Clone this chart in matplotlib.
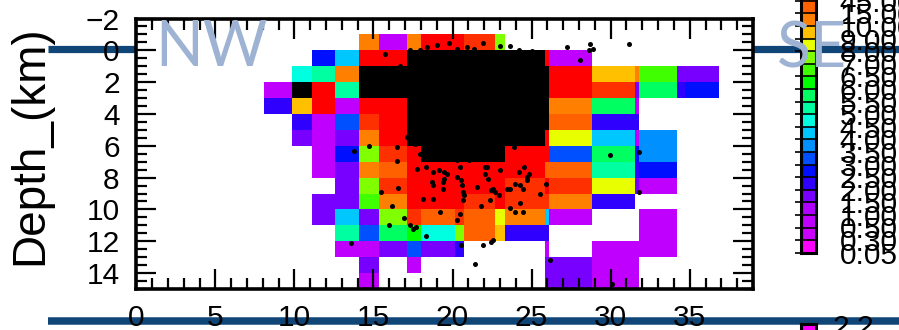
import numpy as np
import matplotlib
matplotlib.use("Agg")
import matplotlib.pyplot as plt
from matplotlib.colors import ListedColormap, BoundaryNorm
from matplotlib.lines import Line2D
from matplotlib.patches import Rectangle

N = np.nan

# cell edges along the profile (km) and in depth (km)
x_edges = [8.10, 9.83, 11.10, 12.57, 14.09, 15.32, 17.11, 18.02, 20.17, 20.70,
           22.70, 23.34, 25.83, 26.08, 28.82, 31.52, 31.81, 34.20, 34.70, 36.88]
depth_edges = list(range(-1, 16))

# class limits of the colour scale and one colour per class
class_bounds = [0.05, 0.3, 0.5, 1.0, 1.5, 2.0, 2.5, 3.0, 3.5, 4.0, 4.5, 5.0,
                5.5, 6.0, 6.5, 7.0, 8.0, 9.0, 10.0, 15.0, 45.0, 50.0, 60.0, 100.0]
class_colors = ["#ff00ff", "#cc00ff", "#c000ff", "#b000ff", "#7800ff", "#3000ff",
                "#0010ff", "#0050ff", "#0090ff", "#00c8ff", "#00ffe0", "#00ffa0",
                "#00ff60", "#00ff00", "#40ff00", "#80ff00", "#e8ff00", "#ffc000",
                "#ff8000", "#ff6000", "#ff3000", "#ff0000", "#000000"]

# one row per 1 km depth slice, from -1 km down to 14 km
cell_values = [
    [N, N, N, N, 12, 0.8, 12, 55, 55, 48, 7.5, N, N, N, N, N, N, N, N],
    [N, N, 2.8, 4.2, 55, 55, 80, 80, 80, 80, 80, 80, 55, 0.8, N, N, N, N, N],
    [N, 4.8, 5.2, 12, 80, 80, 80, 80, 80, 80, 80, 80, 80, 55, 9.5, 12, 6.8, 1.8, 1.8],
    [0.8, 80, 55, 5.2, 80, 80, 80, 80, 80, 80, 80, 80, 80, 55, 48, 1.8, 5.8, 2.2, 2.8],
    [2.2, 9.5, 55, 0.8, 55, 55, 80, 80, 80, 80, 80, 80, 80, 12, 5.8, 0.8, N, N, N],
    [N, 2.2, 0.8, 3.2, 48, 55, 80, 80, 80, 80, 80, 80, 80, 30, 2.2, 2.2, N, N, N],
    [N, 1.8, 0.8, 1.8, 12, 55, 80, 80, 80, 80, 80, 80, 55, 8.5, 4.2, 0.8, 3.8, N, N],
    [N, N, 0.8, 2.8, 7.5, 48, 55, 80, 80, 80, 80, 55, 55, 3.2, 5.8, 2.8, 3.8, N, N],
    [N, N, 0.8, 1.8, 12, 30, 55, 55, 55, 55, 55, 55, 30, 30, 5.2, 2.2, 2.8, N, N],
    [N, N, N, 1.8, 7.5, 48, 55, 55, 55, 55, 55, 48, 55, 48, 8.5, 1.8, 0.8, N, N],
    [N, N, 1.8, 1.8, 6.8, 12, 55, 55, 55, 48, 55, 48, 48, 12, 2.2, N, N, N, N],
    [N, N, 1.8, 4.2, 1.8, 7.5, 48, 30, 48, 30, 8.5, 12, 4.2, 0.8, N, N, 0.8, N, N],
    [N, N, N, 5.2, 3.2, 5.8, 6.2, 4.8, 7.5, 30, 9.5, 2.2, 2.2, N, N, N, 0.8, N, N],
    [N, N, N, 0.8, 0.8, 1.8, 3.2, 1.8, 2.2, N, N, N, 0.8, N, 0.8, 0.8, 0.8, N, N],
    [N, N, N, N, 1.8, N, 0.8, N, N, N, N, N, 1.8, 1.8, 0.8, 0.8, N, N, N],
    [N, N, N, N, 0.8, N, N, N, N, N, N, N, 1.8, 1.8, 0.8, 0.8, N, N, N],
]

# hypocentres outside the dense cluster: distance (km) and depth (km)
quake_x = [15.74, 16.65, 17.32, 17.95, 18.38, 19.01, 19.75, 20.28, 20.91, 21.33,
           21.92, 23.02, 23.61, 24.18, 25.02, 27.24, 28.04, 28.61, 28.71, 28.88,
           31.14, 13.78, 14.73, 16.48, 16.48, 17.22, 17.11, 17.64, 17.95, 18.38,
           19.22, 19.64, 20.28, 21.01, 22.07, 23.02, 23.86,
           17.74, 18.33, 18.76, 19.12, 19.43, 19.64, 20.44, 22.03, 22.07, 22.17,
           23.02, 24.18, 24.49, 24.81, 24.71, 18.69, 18.76, 19.39, 19.49, 19.39,
           20.28, 20.55, 20.59, 20.63, 20.70, 21.54, 22.24, 22.43, 22.55, 22.70,
           22.91, 23.44, 23.65, 23.97, 24.28, 24.45, 24.71, 25.51, 25.93, 15.49,
           16.58, 18.12, 18.76, 22.39, 20.63, 16.16, 19.18, 20.49, 21.82, 23.65,
           23.97, 24.24, 24.45, 16.90, 15.95, 17.28, 17.53, 17.70, 18.33, 20.28,
           13.59, 20.51, 21.92, 22.45, 22.55, 21.44, 26.14, 29.98, 31.82, 31.78,
           30.09]
quake_z = [0.23, 0.98, 0.00, -0.05, -0.22, -0.32, -0.47, -0.11, -0.22, -0.11,
           -0.43, -0.26, -0.26, 0.00, 0.04, -0.22, 0.58, 0.00, -0.42, -0.11,
           -0.40, 6.30, 5.99, 6.05, 6.95, 5.13, 5.45, 5.86, 6.49, 6.70,
           6.28, 6.70, 6.91, 6.91, 6.81, 6.70, 6.07,
           7.44, 7.33, 7.65, 7.54, 7.65, 7.75, 7.33, 7.33, 7.75, 7.33,
           7.54, 7.65, 7.33, 7.75, 7.96, 8.28, 8.49, 8.28, 8.07, 8.74,
           7.96, 8.17, 8.49, 8.91, 9.12, 8.59, 8.07, 8.80, 8.70, 8.91,
           9.07, 8.74, 8.74, 8.38, 8.49, 8.70, 8.17, 9.01, 8.38, 8.91,
           8.66, 9.33, 9.33, 9.43, 9.43, 9.79, 10.16, 10.27, 9.81, 9.91,
           10.16, 9.58, 10.16, 10.52, 11.00, 10.96, 11.21, 11.11, 11.70, 10.69,
           12.09, 12.26, 12.22, 12.05, 11.95, 13.46, 13.20, 6.58, 6.37, 8.90,
           14.67]

x_ticks = [0, 5, 10, 15, 20, 25, 30, 35]
depth_ticks = [-2, 0, 2, 4, 6, 8, 10, 12, 14]

W, H = 899, 330
fig = plt.figure(figsize=(W / 100, H / 100), dpi=100, facecolor="white")
tick_font = "Liberation Sans"

# slide rules running behind the figure
rule_color = "#0f4677"
fig.add_artist(Line2D([48 / W, 1.0], [1 - 48.5 / H] * 2, transform=fig.transFigure,
                      color=rule_color, lw=5.2, zorder=-1, solid_capstyle="butt"))
fig.add_artist(Line2D([48 / W, 1.0], [1 - 320.5 / H] * 2, transform=fig.transFigure,
                      color=rule_color, lw=5.4, zorder=-1, solid_capstyle="butt"))

ax = fig.add_axes([136.3 / W, 41 / H, (753 - 136.3) / W, (289 - 18.5) / H])

cmap = ListedColormap(class_colors)
norm = BoundaryNorm(class_bounds, cmap.N)
vals = np.ma.masked_invalid(np.array(cell_values, dtype=float))
mesh = ax.pcolormesh(x_edges, depth_edges, vals, cmap=cmap, norm=norm,
                     edgecolors="none", antialiased=False, zorder=1)
ax.scatter(quake_x, quake_z, s=13, c="black", linewidths=0, zorder=3)

ax.set_xlim(0, 39)
ax.set_ylim(15, -2)
ax.set_xticks(x_ticks)
ax.set_yticks(depth_ticks)
ax.set_xticks(np.arange(0, 39.01, 1), minor=True)
ax.set_yticks(np.arange(-2, 15.01, 0.5), minor=True)
ax.tick_params(which="both", direction="in", top=True, right=True, width=1.6,
               color="black")
ax.tick_params(which="major", length=14.5)
ax.tick_params(which="minor", length=8)
ax.tick_params(axis="y", which="major", pad=12)
ax.tick_params(axis="x", which="major", pad=11)
for lab in ax.get_xticklabels() + ax.get_yticklabels():
    lab.set_fontfamily(tick_font)
    lab.set_fontsize(21.5)
for sp in ax.spines.values():
    sp.set_linewidth(2.6)

ax.set_ylabel("Depth_(km)", fontsize=33, family=tick_font)
ax.yaxis.set_label_coords(-0.137, 0.532)

# colour bar
cax = fig.add_axes([800.7 / W, 77.3 / H, 15.3 / W, 289.8 / H])
cb = fig.colorbar(mesh, cax=cax, ticks=class_bounds, spacing="uniform",
                  drawedges=True)
cb.outline.set_linewidth(2.2)
cb.dividers.set_linewidth(1.2)
cb.dividers.set_color("black")
cax.set_yticklabels(["%.2f" % v for v in class_bounds])
cax.tick_params(axis="y", left=True, right=False, labelleft=False,
                labelright=True, direction="out", length=4, width=1.2, pad=13)
for lab in cax.get_yticklabels():
    lab.set_fontfamily(tick_font)
    lab.set_fontsize(21.5)

# top of the next panel's colour bar
nax = fig.add_axes([800.7 / W, -40 / H, 15.3 / W, 46 / H])
nax.add_patch(Rectangle((0, 0), 1, 1, facecolor="#ff00ff", edgecolor="none"))
nax.set_xticks([])
nax.set_yticks([])
for sp in nax.spines.values():
    sp.set_linewidth(2.2)
fig.text(833 / W, 1 - 336 / H, "2.2", fontsize=21.5, family=tick_font,
         ha="left", va="baseline")

# profile end labels
end_color = "#9eb3d3"
fig.text(155 / W, 1 - 66 / H, "NW", fontsize=45, family="Lato", color=end_color,
         ha="left", va="baseline", zorder=5)
fig.text(777 / W, 1 - 67 / H, "SE", fontsize=45, family="Lato", color=end_color,
         ha="left", va="baseline", zorder=5)

fig.savefig("out.png", dpi=100, facecolor="white")
